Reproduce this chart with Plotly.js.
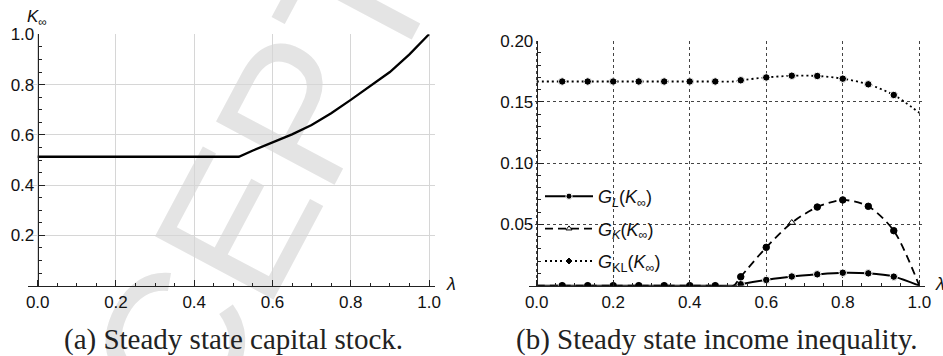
<!DOCTYPE html>
<html><head><meta charset="utf-8">
<script src="https://cdn.plot.ly/plotly-3.0.1.min.js"></script>
<style>html,body{margin:0;padding:0;background:#fff}#c{width:943px;height:356px}</style>
</head><body><div id="c"></div>
<script>
// ---- data ----
const lamK = [0, 0.514, 0.55, 0.6, 0.65, 0.7, 0.75, 0.8, 0.85, 0.9, 0.95, 0.975, 1.0];
const kInf = [0.513, 0.513, 0.538, 0.569, 0.602, 0.639, 0.686, 0.739, 0.793, 0.85, 0.92, 0.962, 1.0];

const lamG = [0, 0.0667, 0.1333, 0.2, 0.2667, 0.3333, 0.4, 0.4667, 0.514, 0.5333, 0.6, 0.6667, 0.7333, 0.8, 0.8667, 0.9333, 1.0];
const gL  = [0, 0, 0, 0, 0, 0, 0, 0, 0, 0.0012, 0.0047, 0.0075, 0.0093, 0.0106, 0.0101, 0.0074, 0];
const gK  = [0, 0, 0, 0, 0, 0, 0, 0, 0, 0.0073, 0.0313, 0.0514, 0.0642, 0.0700, 0.0648, 0.0449, 0];
const gKL = [0.1667, 0.1667, 0.1667, 0.1667, 0.1667, 0.1667, 0.1667, 0.1667, 0.1667, 0.1677, 0.1700, 0.1714, 0.1712, 0.1690, 0.1644, 0.1557, 0.1412];

const xTicks = [0, 0.2, 0.4, 0.6, 0.8, 1.0];
const yTicksA = [0.2, 0.4, 0.6, 0.8, 1.0];
const yTicksB = [0.05, 0.10, 0.15, 0.20];
const yTickTextB = ['0.05', '0.10', '0.15', '0.20'];

const names = ['<i>G</i><sub><i>L</i></sub>(<i>K</i><sub>∞</sub>)',
               '<i>G</i><sub><i>K</i></sub>(<i>K</i><sub>∞</sub>)',
               '<i>G</i><sub>KL</sub>(<i>K</i><sub>∞</sub>)'];

// ---- styling helpers ----
const W = 943, H = 356;
const px = v => v / W, py = v => 1 - v / H;
const last = lamG.length - 1, kink = 8, triIdx = 11;
const noMark = i => (i === 0 || i === kink || i === last);
const sizesOf = s => lamG.map((_, i) => noMark(i) ? 0 : s);

const gkSymbols = lamG.map((_, i) => (i === 0 || i === triIdx) ? 'triangle-up-open' : 'circle');
const gklSymbols = lamG.map((_, i) => i === 0 ? 'diamond' : 'circle');

const traces = [
  {x: lamK, y: kInf, xaxis: 'x', yaxis: 'y', mode: 'lines', showlegend: false,
   line: {color: '#000', width: 2.3}, hoverinfo: 'skip'},
  {x: lamG, y: gL, xaxis: 'x2', yaxis: 'y2', mode: 'lines+markers', name: names[0], legendgroup: 'a',
   line: {color: '#000', width: 2, shape: 'spline', smoothing: 0.8},
   marker: {color: '#000', size: sizesOf(7.5), symbol: 'circle', opacity: 1}},
  {x: lamG, y: gK, xaxis: 'x2', yaxis: 'y2', mode: 'lines+markers', name: names[1], legendgroup: 'b',
   line: {color: '#000', width: 1.8, dash: '8px,5px', shape: 'spline', smoothing: 0.8},
   marker: {color: '#000', size: sizesOf(6.5), symbol: gkSymbols, opacity: 1, line: {color: '#000', width: 1}}},
  {x: lamG, y: gKL, xaxis: 'x2', yaxis: 'y2', mode: 'lines+markers', name: names[2], legendgroup: 'c',
   line: {color: '#000', width: 1.8, dash: '2px,3px', shape: 'spline', smoothing: 0.8},
   marker: {color: '#000', size: sizesOf(7.5), symbol: gklSymbols, opacity: 1}}
];

const tickFont = {family: 'Liberation Sans, Arial, sans-serif', size: 17, color: '#111'};
const axisBase = {
  showline: true, linecolor: '#222', linewidth: 1.5, ticks: 'inside', ticklen: 6, tickwidth: 1,
  tickcolor: '#222', tickfont: tickFont, zeroline: false, fixedrange: true
};

const layout = {
  width: W, height: H, margin: {l: 0, r: 0, t: 0, b: 0},
  paper_bgcolor: '#fff', plot_bgcolor: 'rgba(0,0,0,0)',
  showlegend: true,
  legend: {x: px(540), xanchor: 'left', y: py(178), yanchor: 'top', bgcolor: 'rgba(0,0,0,0)',
           font: {family: 'Liberation Sans, Arial, sans-serif', size: 18, color: '#111'},
           tracegroupgap: 6, itemwidth: 48, traceorder: 'grouped'},
  xaxis: Object.assign({}, axisBase, {
    domain: [px(28), px(435)], range: [-0.0248, 1.0153], anchor: 'y',
    tickvals: xTicks, tickformat: '.1f', showgrid: true, gridcolor: '#d6d6d6', gridwidth: 1,
    minor: {ticks: 'inside', ticklen: 3, tickcolor: '#222', dtick: 0.05, tick0: 0, showgrid: false}
  }),
  yaxis: Object.assign({}, axisBase, {
    domain: [py(285.7), py(34.3)], range: [0, 1], anchor: 'free', position: px(37.7),
    tickvals: yTicksA, tickformat: '.1f', showgrid: true, gridcolor: '#d6d6d6', gridwidth: 1,
    minor: {ticks: 'inside', ticklen: 3, tickcolor: '#222', dtick: 0.05, tick0: 0, showgrid: false}
  }),
  xaxis2: Object.assign({}, axisBase, {
    domain: [px(529), px(925)], range: [-0.0201, 1.0149], anchor: 'y2',
    tickvals: xTicks, tickformat: '.1f', showgrid: true, gridcolor: '#444', gridwidth: 1, griddash: 'dot',
    minor: {ticks: 'inside', ticklen: 3, tickcolor: '#222', dtick: 0.05, tick0: 0, showgrid: false}
  }),
  yaxis2: Object.assign({}, axisBase, {
    domain: [py(285.7), py(40.7)], range: [0, 0.2], anchor: 'free', position: px(536.7),
    tickvals: yTicksB, ticktext: yTickTextB, showgrid: true, gridcolor: '#444', gridwidth: 1, griddash: 'dot',
    minor: {ticks: 'inside', ticklen: 3, tickcolor: '#222', dtick: 0.01, tick0: 0, showgrid: false}
  }),
  shapes: [
    {type: 'rect', xref: 'paper', yref: 'paper', layer: 'below',
     x0: px(236), x1: px(256), y0: py(178), y1: py(158),
     line: {width: 0}, fillcolor: 'rgba(0,0,0,0)',
     label: {text: 'ACCEPTED', textangle: -62, textposition: 'middle center',
             font: {family: 'Liberation Sans, Arial, sans-serif', size: 195, color: '#e4e4e4'}}}
  ],
  annotations: [
    {xref: 'paper', yref: 'paper', x: px(37), y: py(18), xanchor: 'center', yanchor: 'middle', showarrow: false,
     text: '<i>K</i><sub>∞</sub>', font: {family: 'Liberation Sans, Arial, sans-serif', size: 17, color: '#111'}},
    {xref: 'paper', yref: 'paper', x: px(444), y: py(284), xanchor: 'left', yanchor: 'middle', showarrow: false,
     text: '<i>λ</i>', font: {family: 'Liberation Sans, Arial, sans-serif', size: 18, color: '#111'}},
    {xref: 'paper', yref: 'paper', x: px(933), y: py(284), xanchor: 'left', yanchor: 'middle', showarrow: false,
     text: '<i>λ</i>', font: {family: 'Liberation Sans, Arial, sans-serif', size: 18, color: '#111'}},
    {xref: 'paper', yref: 'paper', x: px(233), y: py(339), xanchor: 'center', yanchor: 'middle', showarrow: false,
     text: '(a) Steady state capital stock.', font: {family: 'Liberation Serif, Times New Roman, serif', size: 29, color: '#222'}},
    {xref: 'paper', yref: 'paper', x: px(717), y: py(339), xanchor: 'center', yanchor: 'middle', showarrow: false,
     text: '(b) Steady state income inequality.', font: {family: 'Liberation Serif, Times New Roman, serif', size: 29, color: '#222'}}
  ]
};

Plotly.newPlot('c', traces, layout, {staticPlot: true, displayModeBar: false});
</script></body></html>
